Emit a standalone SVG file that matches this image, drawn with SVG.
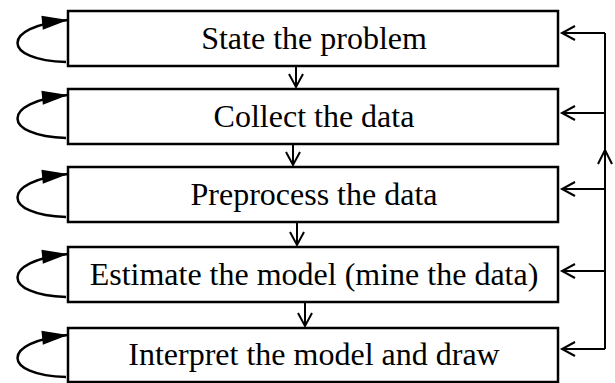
<svg xmlns="http://www.w3.org/2000/svg" width="615" height="383" viewBox="0 0 615 383">
<style>
.box{fill:#fff;stroke:#000;stroke-width:2.5}
.lbl{font-family:"Liberation Serif","Times New Roman",serif;font-size:32px;fill:#000;text-anchor:middle}
.ln{fill:none;stroke:#000;stroke-width:2}
.loop{fill:none;stroke:#000;stroke-width:2.5}
</style>
<defs>
<marker id="open" markerUnits="userSpaceOnUse" markerWidth="16" markerHeight="16" refX="13" refY="7" orient="auto" overflow="visible">
<path d="M0,0 L13,7 L0,14" fill="none" stroke="#000" stroke-width="2"/>
</marker>
<marker id="fill" markerUnits="userSpaceOnUse" markerWidth="28" markerHeight="15" refX="26" refY="7" orient="auto" overflow="visible">
<path d="M0,0 L26,7 L0,14 Z" fill="#000"/>
</marker>
</defs>
<g id="n1"><rect class="box" x="68" y="11" width="490" height="55"/><text class="lbl" x="314" y="49">State the problem</text></g>
<g id="n2"><rect class="box" x="68" y="89" width="490" height="55"/><text class="lbl" x="314" y="127">Collect the data</text></g>
<g id="n3"><rect class="box" x="68" y="167" width="490" height="55"/><text class="lbl" x="314" y="205">Preprocess the data</text></g>
<g id="n4"><rect class="box" x="68" y="247" width="490" height="55"/><text class="lbl" x="314" y="285">Estimate the model (mine the data)</text></g>
<g id="n5"><rect class="box" x="68" y="328" width="490" height="54"/><text class="lbl" x="314" y="365">Interpret the model and draw</text></g>
<g id="connectors">
<path class="ln" d="M296,66 V87" marker-end="url(#open)"/>
<path class="ln" d="M293,144 V165" marker-end="url(#open)"/>
<path class="ln" d="M297,222 V245" marker-end="url(#open)"/>
<path class="ln" d="M305,302 V326" marker-end="url(#open)"/>
<path class="loop" d="M66,62 C2,60 0,27 68,20" marker-end="url(#fill)"/>
<path class="loop" d="M66,138 C2,136 0,102 68,95" marker-end="url(#fill)"/>
<path class="loop" d="M66,217 C2,215 0,181 68,174" marker-end="url(#fill)"/>
<path class="loop" d="M66,297 C2,295 0,261 68,254" marker-end="url(#fill)"/>
<path class="loop" d="M66,377 C2,375 0,342 68,335" marker-end="url(#fill)"/>
<path class="ln" d="M605,33 V349"/>
<path class="ln" d="M598,164 L605,150 L612,164"/>
<path class="ln" d="M605,33 H562" marker-end="url(#open)"/>
<path class="ln" d="M605,113 H562" marker-end="url(#open)"/>
<path class="ln" d="M605,189 H562" marker-end="url(#open)"/>
<path class="ln" d="M605,271 H562" marker-end="url(#open)"/>
<path class="ln" d="M605,349 H562" marker-end="url(#open)"/>
</g>
</svg>
